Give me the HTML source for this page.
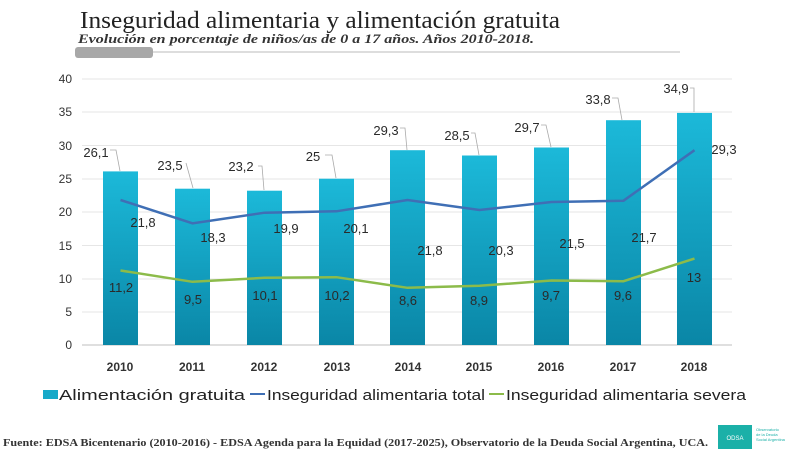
<!DOCTYPE html>
<html><head><meta charset="utf-8"><style>
html,body{margin:0;padding:0;background:#fff;width:800px;height:450px;overflow:hidden}
svg{display:block}
</style></head><body>
<svg width="800" height="450" viewBox="0 0 800 450" xmlns="http://www.w3.org/2000/svg">
<defs>
<linearGradient id="bg" x1="0" y1="0" x2="0" y2="1">
<stop offset="0" stop-color="#1cb9d9"/><stop offset="1" stop-color="#0a86a6"/>
</linearGradient>
</defs>
<text x="80" y="28" font-family="Liberation Serif, serif" font-size="24" fill="#222" textLength="480" lengthAdjust="spacingAndGlyphs">Inseguridad alimentaria y alimentación gratuita</text>
<text x="78" y="43" font-family="Liberation Serif, serif" font-size="12.5" font-style="italic" font-weight="bold" fill="#333" textLength="456" lengthAdjust="spacingAndGlyphs">Evolución en porcentaje de niños/as de 0 a 17 años. Años  2010-2018.</text>
<line x1="150" y1="52" x2="680" y2="52" stroke="#bbb" stroke-width="1"/>
<rect x="75" y="47" width="78" height="11" rx="3" fill="#a8a8a8"/>
<g stroke="#e6e6e6" stroke-width="1">
<line x1="82" y1="79" x2="732" y2="79"/><line x1="82" y1="112" x2="732" y2="112"/>
<line x1="82" y1="145.5" x2="732" y2="145.5"/><line x1="82" y1="179" x2="732" y2="179"/>
<line x1="82" y1="212" x2="732" y2="212"/><line x1="82" y1="245.5" x2="732" y2="245.5"/>
<line x1="82" y1="279" x2="732" y2="279"/><line x1="82" y1="312" x2="732" y2="312"/>
</g>
<line x1="82" y1="345" x2="732" y2="345" stroke="#bfbfbf"/>
<g font-family="Liberation Sans, sans-serif" font-size="12" fill="#333" text-anchor="end">
<text x="72" y="83">40</text><text x="72" y="116">35</text><text x="72" y="150">30</text><text x="72" y="183">25</text>
<text x="72" y="216">20</text><text x="72" y="250">15</text><text x="72" y="283">10</text><text x="72" y="316">5</text><text x="72" y="349">0</text>
</g>
<g fill="url(#bg)">
<rect x="103" y="171.4" width="35" height="173.6"/>
<rect x="175" y="188.7" width="35" height="156.3"/>
<rect x="247" y="190.7" width="35" height="154.3"/>
<rect x="319" y="178.7" width="35" height="166.3"/>
<rect x="390" y="150.2" width="35" height="194.8"/>
<rect x="462" y="155.5" width="35" height="189.5"/>
<rect x="534" y="147.5" width="35" height="197.5"/>
<rect x="606" y="120.2" width="35" height="224.8"/>
<rect x="677" y="112.9" width="35" height="232.1"/>
</g>
<g font-family="Liberation Sans, sans-serif" font-size="12" font-weight="bold" fill="#333" text-anchor="middle">
<text x="120" y="371">2010</text><text x="192" y="371">2011</text><text x="264" y="371">2012</text><text x="337" y="371">2013</text><text x="408" y="371">2014</text><text x="479" y="371">2015</text><text x="551" y="371">2016</text><text x="623" y="371">2017</text><text x="694" y="371">2018</text>
</g>
<polyline points="120.5,200 192.5,223.3 264.5,212.7 336.5,211.3 407.5,200 479.5,210 551.5,202 623.5,200.7 694.5,150.2" fill="none" stroke="#3f6fb5" stroke-width="2.5"/>
<polyline points="120.5,270.5 192.5,281.8 264.5,277.8 336.5,277.2 407.5,287.8 479.5,285.8 551.5,280.5 623.5,281.2 694.5,258.6" fill="none" stroke="#8cbb4a" stroke-width="2.5"/>
<g stroke="#aaa" stroke-width="0.8" fill="none">
<path d="M110,150 H116 L120,171"/><path d="M186,163 L193,188"/><path d="M258,166 H262 L264,190"/>
<path d="M325,155 H332 L336,178"/><path d="M400,128 H405 L407,150"/><path d="M471,133 H475 L479,155"/>
<path d="M541,125 H546 L551,147"/><path d="M612,98 H618 L622,120"/><path d="M690,88 H694 L694,112"/>
</g>
<g font-family="Liberation Sans, sans-serif" font-size="13" fill="#2a2a2a" text-anchor="middle">
<text x="96" y="157">26,1</text><text x="170" y="170">23,5</text><text x="241" y="171">23,2</text><text x="313" y="161">25</text>
<text x="386" y="135">29,3</text><text x="457" y="140">28,5</text><text x="527" y="132">29,7</text><text x="598" y="104">33,8</text><text x="676" y="93">34,9</text>
<text x="143" y="227">21,8</text><text x="213" y="242">18,3</text><text x="286" y="233">19,9</text><text x="356" y="233">20,1</text>
<text x="430" y="255">21,8</text><text x="501" y="255">20,3</text><text x="572" y="248">21,5</text><text x="644" y="242">21,7</text><text x="724" y="154">29,3</text>
<text x="121" y="292">11,2</text><text x="193" y="304">9,5</text><text x="265" y="300">10,1</text><text x="337" y="300">10,2</text>
<text x="408" y="305">8,6</text><text x="479" y="305">8,9</text><text x="551" y="300">9,7</text><text x="623" y="300">9,6</text><text x="694" y="282">13</text>
</g>
<rect x="43" y="390" width="15" height="9" fill="#17a9c9"/>
<g font-family="Liberation Sans, sans-serif" font-size="15" fill="#222">
<text x="59" y="400" textLength="186" lengthAdjust="spacingAndGlyphs">Alimentación gratuita</text>
<line x1="250" y1="394" x2="265" y2="394" stroke="#3f6fb5" stroke-width="2"/>
<text x="267" y="400" textLength="218" lengthAdjust="spacingAndGlyphs">Inseguridad alimentaria total</text>
<line x1="489" y1="394" x2="504" y2="394" stroke="#8cbb4a" stroke-width="2"/>
<text x="506" y="400" textLength="240" lengthAdjust="spacingAndGlyphs">Inseguridad alimentaria severa</text>
</g>
<text x="3" y="446" font-family="Liberation Serif, serif" font-size="11" font-weight="bold" fill="#333" textLength="705" lengthAdjust="spacingAndGlyphs">Fuente: EDSA Bicentenario (2010-2016) - EDSA Agenda para la Equidad (2017-2025), Observatorio de la Deuda Social Argentina, UCA.</text>
<rect x="718" y="425" width="34" height="24" fill="#1bb0a8"/>
<text x="735" y="440" font-family="Liberation Sans, sans-serif" font-size="6" fill="#fff" text-anchor="middle">ODSA</text>
<text x="756" y="431" font-family="Liberation Sans, sans-serif" font-size="4" fill="#1bb0a8">Observatorio</text>
<text x="756" y="436" font-family="Liberation Sans, sans-serif" font-size="4" fill="#1bb0a8">de la Deuda</text>
<text x="756" y="441" font-family="Liberation Sans, sans-serif" font-size="4" fill="#1bb0a8">Social Argentina</text>
</svg>
</body></html>
